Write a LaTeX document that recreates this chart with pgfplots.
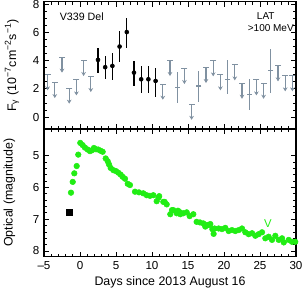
\documentclass[border=0pt]{standalone}
\usepackage{fontspec}
\setmainfont{Liberation Sans}
\usepackage{pgfplots}
\pgfplotsset{compat=1.18}
\usepackage{pgfplotstable}
\usetikzlibrary{arrows.meta,calc}

\definecolor{ulgray}{rgb}{0.50,0.57,0.63}
\definecolor{vgreen}{rgb}{0.13,0.93,0.08}

\pgfplotstableread{
x y ep em
2.5 4.07 0.88 0.91
3.5 3.55 0.83 0.86
4.5 3.64 0.93 1.00
5.5 5.02 1.08 1.12
6.5 6.05 1.00 1.10
7.5 3.16 0.86 0.95
8.5 2.69 0.91 1.00
9.5 2.69 0.91 1.00
10.5 2.57 0.91 1.12
}\detections

\pgfplotstableread{
x y ep em
13.5 2.10 1.14 1.12
16.5 2.21 1.10 1.11
20.5 2.69 1.38 1.07
23.5 1.62 1.09 1.12
26.5 3.29 1.55 1.60
}\weakdet

\pgfplotstableread{
x y
-4.5 3.00
-3.5 2.45
-2.5 4.26
-1.5 2.05
-0.5 2.64
0.5 4.02
1.5 2.88
11.5 2.33
12.5 4.02
14.5 3.45
15.5 0.90
17.5 3.52
18.5 4.00
19.5 3.00
21.5 3.71
22.5 2.40
24.5 2.64
25.5 2.40
27.5 3.64
28.5 2.93
29.5 2.93
}\ulims

\pgfplotstableread{
x y
-1.25 6.16
-1.01 5.82
-0.79 5.55
-0.46 5.32
-0.24 4.96
0.04 4.59
0.37 4.66
0.69 4.74
1.07 4.80
1.39 4.85
1.67 4.82
1.94 4.75
2.22 4.79
2.54 4.80
2.88 4.84
3.15 4.87
3.57 5.08
3.85 5.17
4.03 5.27
4.26 5.38
4.63 5.45
5.00 5.48
5.32 5.53
5.65 5.59
5.93 5.66
6.25 5.72
6.63 5.88
6.94 5.92
7.64 6.13
8.19 6.15
8.79 6.18
9.26 6.24
9.72 6.26
10.18 6.24
10.65 6.43
10.90 6.32
11.00 6.27
11.57 6.45
11.76 6.45
12.04 6.53
12.54 6.84
12.78 6.71
12.96 6.71
13.43 6.81
13.61 6.73
13.89 6.78
13.93 6.84
14.35 6.81
14.82 6.78
15.23 6.90
15.74 6.84
16.20 7.08
16.67 7.10
17.13 7.13
17.40 7.23
17.64 7.18
17.92 7.18
18.10 7.15
18.38 7.31
18.56 7.46
18.70 7.29
19.26 7.29
19.72 7.31
20.18 7.27
20.65 7.37
21.10 7.34
21.57 7.37
22.04 7.34
22.50 7.29
22.96 7.41
23.43 7.47
23.90 7.44
24.35 7.52
24.82 7.47
25.28 7.41
25.74 7.60
26.20 7.55
26.67 7.65
27.13 7.52
27.60 7.65
28.06 7.60
28.30 7.73
28.99 7.65
29.44 7.71
29.90 7.71
}\optical

\pgfplotsset{
  mystyle/.style={
    width=189pt, scale only axis,
    xmin=-5, xmax=30,
    xtick={-5,0,...,30}, minor x tick num=4,
    tick align=inside, major tick length=3.75pt, minor tick length=2pt,
    axis line style={line width=0.9pt},
    every tick/.append style={black, line width=0.7pt},
    tick label style={font=\fontsize{8.7}{10}\selectfont},
    label style={font=\fontsize{9.3}{11}\selectfont},
    /pgf/number format/assume math mode=true,
  }
}

\begin{document}
\begin{tikzpicture}
\begin{axis}[mystyle, at={(0,95.8pt)}, anchor=south west, height=95.3pt,
  ymin=-0.85, ymax=8.2, ytick={0,2,4,6,8}, yticklabels={0,2,4,6,8}, minor y tick num=3,
  xticklabels={},
  ylabel={F\textsubscript{γ} (10\textsuperscript{−7}cm\textsuperscript{−2}s\textsuperscript{−1})},
  ylabel style={at={(axis description cs:-0.127,0.5)}, anchor=center}]
\addplot[ulgray, line width=0.8pt, -{Stealth[length=3pt,width=3.5pt]},
  quiver={u=0,v=-1.1}] table[x=x,y=y] \ulims;
\addplot[ulgray, only marks, mark=-, mark size=2.3pt, mark options={line width=0.8pt}]
  table[x=x,y=y] \ulims;
\addplot[ulgray, only marks, mark=-, mark size=2pt, mark options={line width=0.8pt},
  error bars/.cd, y dir=both, y explicit, error mark=none,
  error bar style={line width=0.8pt}]
  table[x=x, y=y, y error plus=ep, y error minus=em] \weakdet;
\addplot[black, only marks, mark=*, mark size=1.5pt,
  error bars/.cd, y dir=both, y explicit, error mark=none,
  error bar style={line width=1pt}]
  table[x=x, y=y, y error plus=ep, y error minus=em] \detections;
\node[anchor=west, font=\fontsize{8}{9}\selectfont] at (rel axis cs:0.044,0.882) {V339 Del};
\node[font=\fontsize{7.5}{9}\selectfont] at (rel axis cs:0.880,0.887) {LAT};
\node[font=\fontsize{7.5}{9}\selectfont] at (rel axis cs:0.900,0.795) {>100 MeV};
\end{axis}

\begin{axis}[mystyle, at={(0,0)}, anchor=south west, height=95.8pt,
  y dir=reverse, ymin=4.15, ymax=8.18, ytick={5,6,7,8}, yticklabels={5,6,7,8}, minor y tick num=4,
  xticklabels={\textendash5,0,5,10,15,20,25,30},
  xlabel={Days since 2013 August 16},
  ylabel={Optical (magnitude)},
  ylabel style={at={(axis description cs:-0.137,0.5)}, anchor=center},
  xlabel style={at={(axis description cs:0.5,-0.198)}, anchor=center}]
\addplot[only marks, mark=*, mark size=2.1pt, color=vgreen, mark options={draw=vgreen, fill=vgreen}]
  table[x=x,y=y] \optical;
\addplot[only marks, mark=square*, mark size=2.2pt, black] coordinates {(-1.5,6.78)};
\node[text=vgreen, font=\fontsize{8.5}{9}\selectfont] at (axis cs:26.1,7.13) {V};
\coordinate (bl) at (rel axis cs:0,0);
\end{axis}
\pgfresetboundingbox
\path[use as bounding box] ($(bl)+(-33pt,-25.725pt)$) rectangle +(228pt,218.25pt);
\end{tikzpicture}
\end{document}
